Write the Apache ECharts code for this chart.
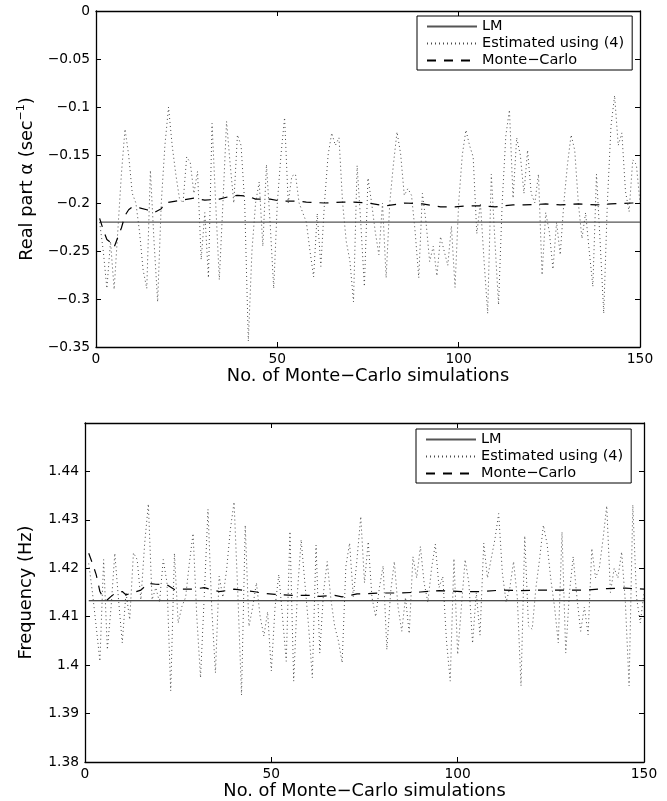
<!DOCTYPE html>
<html>
<head>
<meta charset="utf-8">
<script src="https://cdn.jsdelivr.net/npm/echarts@6/dist/echarts.min.js"></script>
<style>
html,body{margin:0;padding:0;background:#fff;}
#chart{width:667px;height:801px;}
</style>
</head>
<body>
<div id="chart"></div>
<script>
// ---------- data ----------
const xTicks = [0, 50, 100, 150];
const legendNames = ['LM', 'Estimated using (4)', 'Monte\u2212Carlo'];

// Top panel: real part alpha (sec^-1)
const alphaLM = -0.22;
const alphaEst = [
  -0.22, -0.25, -0.289, -0.24, -0.29, -0.23, -0.17, -0.123, -0.15, -0.19,
  -0.2, -0.23, -0.27, -0.289, -0.166, -0.24, -0.303, -0.2, -0.14, -0.1,
  -0.14, -0.17, -0.195, -0.2, -0.152, -0.158, -0.19, -0.167, -0.259, -0.21,
  -0.278, -0.117, -0.2, -0.28, -0.2, -0.115, -0.16, -0.2, -0.129, -0.14,
  -0.2, -0.344, -0.25, -0.2, -0.178, -0.245, -0.16, -0.22, -0.289, -0.2,
  -0.15, -0.111, -0.2, -0.172, -0.17, -0.2, -0.21, -0.22, -0.25, -0.277,
  -0.211, -0.266, -0.2, -0.15, -0.127, -0.14, -0.132, -0.2, -0.24, -0.26,
  -0.303, -0.161, -0.22, -0.287, -0.174, -0.2, -0.23, -0.254, -0.2, -0.278,
  -0.2, -0.16, -0.126, -0.149, -0.192, -0.185, -0.192, -0.23, -0.278, -0.19,
  -0.22, -0.261, -0.245, -0.276, -0.235, -0.25, -0.265, -0.224, -0.288, -0.2,
  -0.15, -0.124, -0.14, -0.152, -0.232, -0.2, -0.26, -0.315, -0.17, -0.24,
  -0.306, -0.2, -0.13, -0.103, -0.195, -0.132, -0.15, -0.19, -0.145, -0.19,
  -0.2, -0.17, -0.275, -0.21, -0.23, -0.269, -0.22, -0.254, -0.2, -0.16,
  -0.129, -0.145, -0.2, -0.237, -0.21, -0.25, -0.287, -0.17, -0.24, -0.315,
  -0.2, -0.12, -0.088, -0.14, -0.127, -0.188, -0.209, -0.155, -0.16, -0.2
];
const alphaMcX = [1, 2, 3, 4, 5, 6, 7, 8, 9, 10, 12, 14, 16, 18, 19, 22, 27, 30, 34, 37, 39, 42, 44, 48, 51, 55, 58, 63, 68, 71, 75, 80, 85, 90, 95, 99, 102, 106, 110, 115, 118, 124, 128, 133, 138, 142, 148, 150];
const alphaMcY = [-0.216, -0.228, -0.238, -0.241, -0.246, -0.236, -0.226, -0.213, -0.207, -0.204, -0.205, -0.207, -0.21, -0.206, -0.2, -0.198, -0.195, -0.197, -0.196, -0.193, -0.192, -0.193, -0.196, -0.196, -0.198, -0.198, -0.199, -0.2, -0.199, -0.199, -0.2, -0.203, -0.2, -0.201, -0.204, -0.204, -0.203, -0.203, -0.204, -0.202, -0.202, -0.201, -0.202, -0.201, -0.202, -0.201, -0.2, -0.2];

// Bottom panel: frequency (Hz)
const freqLM = 1.4133;
const freqEst = [
  1.421, 1.415, 1.408, 1.4008, 1.4218, 1.4032, 1.412, 1.4231, 1.4135, 1.4046,
  1.415, 1.4094, 1.4232, 1.4218, 1.4135, 1.425, 1.4333, 1.4135, 1.416, 1.413,
  1.4218, 1.417, 1.3947, 1.4231, 1.4087, 1.4121, 1.414, 1.4211, 1.4272, 1.41,
  1.3974, 1.4142, 1.4322, 1.412, 1.3984, 1.4184, 1.414, 1.4197, 1.428, 1.4337,
  1.415, 1.3938, 1.4289, 1.408, 1.412, 1.417, 1.41, 1.406, 1.411, 1.3988,
  1.412, 1.4187, 1.41, 1.4008, 1.4276, 1.3967, 1.415, 1.4259, 1.417, 1.408,
  1.3974, 1.4248, 1.4025, 1.415, 1.4214, 1.4135, 1.408, 1.405, 1.4005, 1.4204,
  1.4252, 1.414, 1.422, 1.4307, 1.417, 1.4255, 1.414, 1.41, 1.416, 1.4205,
  1.4032, 1.415, 1.4214, 1.412, 1.407, 1.414, 1.4065, 1.4224, 1.418, 1.4245,
  1.417, 1.413, 1.42, 1.425, 1.416, 1.4183, 1.405, 1.3967, 1.422, 1.4022,
  1.412, 1.4218, 1.417, 1.4045, 1.415, 1.4062, 1.4252, 1.418, 1.422, 1.426,
  1.4313, 1.419, 1.413, 1.416, 1.4214, 1.414, 1.3957, 1.4267, 1.4081, 1.4074,
  1.416, 1.422, 1.4289, 1.425, 1.4177, 1.412, 1.4046, 1.4275, 1.4025, 1.415,
  1.4224, 1.414, 1.407, 1.412, 1.4063, 1.4241, 1.418, 1.42, 1.426, 1.4329,
  1.415, 1.42, 1.418, 1.4234, 1.413, 1.3957, 1.4331, 1.414, 1.4087, 1.415
];
const freqMcX = [1, 2, 3, 4, 5, 6, 7, 8, 10, 11, 13, 15, 17, 19, 22, 24, 26, 29, 32, 36, 38, 40, 43, 46, 48, 51, 56, 61, 63, 67, 69, 73, 75, 79, 85, 90, 95, 101, 106, 112, 117, 123, 128, 134, 140, 145, 150];
const freqMcY = [1.4231, 1.421, 1.4187, 1.4152, 1.4138, 1.4135, 1.4142, 1.4148, 1.4152, 1.4145, 1.415, 1.4155, 1.4169, 1.4167, 1.4166, 1.4156, 1.4157, 1.4157, 1.416, 1.4152, 1.4154, 1.4157, 1.4154, 1.4151, 1.4148, 1.4146, 1.4144, 1.4144, 1.4142, 1.4144, 1.4141, 1.4147, 1.4147, 1.4149, 1.4149, 1.4151, 1.4154, 1.4152, 1.4152, 1.4155, 1.4154, 1.4155, 1.4155, 1.4155, 1.4158, 1.4159, 1.4157];

// ---------- chart ----------
const FONT = 'DejaVu Sans';
const TICK_FS = 13.8;
const NAME_FS = 17.8;
const fmtNum = v => {
  const s = String(+(+v).toFixed(3));
  return s.replace('-', '\u2212');
};

function xAxes(gridIndex, labelMargin, nameGap) {
  return [
    {
      gridIndex, type: 'value', position: 'bottom', min: xTicks[0], max: xTicks[xTicks.length - 1], interval: 50,
      name: 'No. of Monte\u2212Carlo simulations', nameLocation: 'middle', nameGap,
      nameTextStyle: { fontFamily: FONT, fontSize: NAME_FS, color: '#000' },
      axisLine: { show: true, onZero: false, lineStyle: { color: '#000', width: 1.3 } },
      axisTick: { show: true, inside: true, length: 5, lineStyle: { color: '#000' } },
      axisLabel: { fontFamily: FONT, fontSize: TICK_FS, color: '#000', margin: labelMargin, formatter: fmtNum },
      splitLine: { show: false }
    },
    {
      gridIndex, type: 'value', position: 'top', min: xTicks[0], max: xTicks[xTicks.length - 1], interval: 50,
      axisLine: { show: true, onZero: false, lineStyle: { color: '#000', width: 1.3 } },
      axisTick: { show: true, inside: true, length: 5, lineStyle: { color: '#000' } },
      axisLabel: { show: false }, splitLine: { show: false }
    }
  ];
}
function yAxes(gridIndex, min, max, interval, name, nameGap, labelMargin, showMax) {
  return [
    {
      gridIndex, type: 'value', position: 'left', min, max, interval,
      name, nameLocation: 'middle', nameGap,
      nameTextStyle: {
        fontFamily: FONT, fontSize: NAME_FS, color: '#000',
        rich: {
          a: { fontFamily: FONT, fontSize: NAME_FS, color: '#000', lineHeight: 20, verticalAlign: 'bottom' },
          s: { fontFamily: FONT, fontSize: 11, color: '#000', lineHeight: 20, verticalAlign: 'top' }
        }
      },
      axisLine: { show: true, onZero: false, lineStyle: { color: '#000', width: 1.3 } },
      axisTick: { show: true, inside: true, length: 5, lineStyle: { color: '#000' } },
      axisLabel: { fontFamily: FONT, fontSize: TICK_FS, color: '#000', margin: labelMargin, formatter: fmtNum, showMaxLabel: showMax },
      splitLine: { show: false }
    },
    {
      gridIndex, type: 'value', position: 'right', min, max, interval,
      axisLine: { show: true, onZero: false, lineStyle: { color: '#000', width: 1.3 } },
      axisTick: { show: true, inside: true, length: 5, lineStyle: { color: '#000' } },
      axisLabel: { show: false }, splitLine: { show: false }
    }
  ];
}

const lmStyle = (c) => ({ color: c, width: 1.2, type: 'solid' });
const estStyle = { color: '#4a4a4a', width: 1, type: [1, 3] };
const mcStyle = { color: '#000', width: 1.2, type: [9, 8] };

function panelSeries(xi, yi, lm, est, mcX, mcY, lmColor) {
  return [
    { name: legendNames[0], type: 'line', xAxisIndex: xi, yAxisIndex: yi, symbol: 'none', silent: true,
      data: [[1, lm], [150, lm]], lineStyle: lmStyle(lmColor), itemStyle: { color: lmColor } },
    { name: legendNames[1], type: 'line', xAxisIndex: xi, yAxisIndex: yi, symbol: 'none', silent: true,
      data: est.map((v, i) => [i + 1, v]), lineStyle: estStyle, itemStyle: { color: '#4a4a4a' } },
    { name: legendNames[2], type: 'line', xAxisIndex: xi, yAxisIndex: yi, symbol: 'none', silent: true,
      data: mcX.map((x, i) => [x, mcY[i]]), lineStyle: mcStyle, itemStyle: { color: '#000' } }
  ];
}

function legendAt(left, top) {
  return {
    orient: 'vertical', left, top, data: legendNames,
    backgroundColor: '#fff', borderColor: '#000', borderWidth: 1,
    padding: [3, 8, 2, 9], itemGap: 2, itemWidth: 50, itemHeight: 14,
    itemStyle: { color: 'rgba(0,0,0,0)', borderWidth: 0, opacity: 0 },
    textStyle: { fontFamily: FONT, fontSize: 14.5, color: '#000' },
    selectedMode: false
  };
}

const option = {
  animation: false,
  backgroundColor: '#fff',
  grid: [
    { left: 96, top: 11, width: 544, height: 336, show: false },
    { left: 85, top: 423, width: 559, height: 340, show: false }
  ],
  legend: [legendAt(417, 16), legendAt(416, 429)],
  xAxis: [...xAxes(0, 5, 17), ...xAxes(1, 5, 20)],
  yAxis: [
    ...yAxes(0, -0.35, 0, 0.05, '{a|Real part \u03b1 (sec}{s|\u22121}{a|)}', 60, 6, true),
    ...yAxes(1, 1.38, 1.45, 0.01, 'Frequency (Hz)', 50, 6, false)
  ],
  series: [
    ...panelSeries(0, 0, alphaLM, alphaEst, alphaMcX, alphaMcY, '#555'),
    ...panelSeries(2, 2, freqLM, freqEst, freqMcX, freqMcY, '#111')
  ]
};

const chart = echarts.init(document.getElementById('chart'), null, { renderer: 'canvas' });
chart.setOption(option);
</script>
</body>
</html>
